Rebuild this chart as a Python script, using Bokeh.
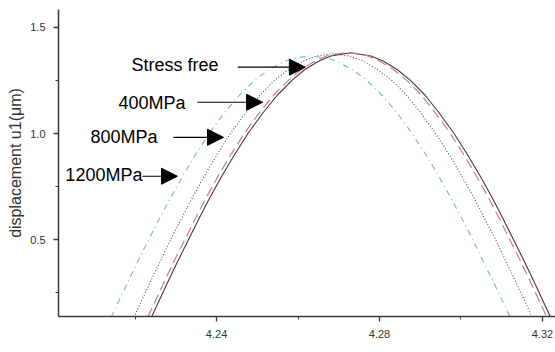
from bokeh.plotting import figure
from bokeh.models import Arrow, NormalHead, FixedTicker, Range1d, Label
from bokeh.core.properties import value
from bokeh.embed import file_html
from bokeh.resources import INLINE

# Displacement u1 (um) versus time (us) around the first peak, for four stress levels
stress_free_t = [4.2240, 4.2280, 4.2305, 4.2331, 4.2357, 4.2384, 4.2413, 4.2444, 4.2477,
                 4.2515, 4.2549, 4.2585, 4.2616, 4.2650, 4.2681, 4.2730,
                 4.2779, 4.2810, 4.2844, 4.2876, 4.2912, 4.2945, 4.2983, 4.3016,
                 4.3047, 4.3076, 4.3103, 4.3129, 4.3155, 4.3180, 4.3220]
stress_free_u = [0.135, 0.30, 0.40, 0.50, 0.60, 0.70, 0.80, 0.90, 1.00,
                 1.10, 1.18, 1.25, 1.30, 1.34, 1.365, 1.38,
                 1.365, 1.34, 1.30, 1.25, 1.18, 1.10, 1.00, 0.90,
                 0.80, 0.70, 0.60, 0.50, 0.40, 0.30, 0.135]

mpa400_t = [4.2231, 4.2271, 4.2296, 4.2322, 4.2348, 4.2375, 4.2404, 4.2435, 4.2468,
            4.2506, 4.2540, 4.2576, 4.2607, 4.2641, 4.2672, 4.2721,
            4.2770, 4.2801, 4.2835, 4.2867, 4.2903, 4.2936, 4.2974, 4.3007,
            4.3038, 4.3067, 4.3094, 4.3120, 4.3146, 4.3171, 4.3211]
mpa400_u = [0.135, 0.30, 0.40, 0.50, 0.60, 0.70, 0.80, 0.90, 1.00,
            1.10, 1.18, 1.25, 1.30, 1.34, 1.366, 1.382,
            1.366, 1.34, 1.30, 1.25, 1.18, 1.10, 1.00, 0.90,
            0.80, 0.70, 0.60, 0.50, 0.40, 0.30, 0.135]

mpa800_t = [4.2197, 4.2237, 4.2262, 4.2287, 4.2314, 4.2341, 4.2370, 4.2401, 4.2434,
            4.2472, 4.2506, 4.2542, 4.2576, 4.2611, 4.2646, 4.2686,
            4.2726, 4.2761, 4.2796, 4.2830, 4.2866, 4.2900, 4.2938, 4.2971,
            4.3002, 4.3031, 4.3058, 4.3085, 4.3110, 4.3135, 4.3175]
mpa800_u = [0.135, 0.30, 0.40, 0.50, 0.60, 0.70, 0.80, 0.90, 1.00,
            1.10, 1.18, 1.25, 1.30, 1.34, 1.365, 1.375,
            1.365, 1.34, 1.30, 1.25, 1.18, 1.10, 1.00, 0.90,
            0.80, 0.70, 0.60, 0.50, 0.40, 0.30, 0.135]

mpa1200_t = [4.2141, 4.2182, 4.2207, 4.2233, 4.2260, 4.2288, 4.2317, 4.2348, 4.2382,
             4.2420, 4.2456, 4.2493, 4.2528, 4.2567, 4.2591, 4.2631,
             4.2671, 4.2695, 4.2734, 4.2769, 4.2806, 4.2842, 4.2880, 4.2914,
             4.2945, 4.2974, 4.3002, 4.3029, 4.3054, 4.3080, 4.3121]
mpa1200_u = [0.135, 0.30, 0.40, 0.50, 0.60, 0.70, 0.80, 0.90, 1.00,
             1.10, 1.18, 1.25, 1.30, 1.34, 1.355, 1.365,
             1.355, 1.34, 1.30, 1.25, 1.18, 1.10, 1.00, 0.90,
             0.80, 0.70, 0.60, 0.50, 0.40, 0.30, 0.135]

# Curve labels and the arrows pointing at each curve
label_text = ["Stress free", "400MPa", "800MPa", "1200MPa"]
label_t = [4.2405, 4.2324, 4.2255, 4.2218]
label_u = [1.321, 1.142, 0.982, 0.803]
arrow_t0 = [4.2452, 4.2353, 4.2294, 4.2218]
arrow_t1 = [4.2618, 4.2513, 4.2417, 4.2304]
arrow_u = [1.312, 1.147, 0.982, 0.799]

x_major = [4.24, 4.28, 4.32]
x_minor = [4.22, 4.26, 4.30]
y_major = [0.5, 1.0, 1.5]
y_minor = [0.25, 0.75, 1.25]

FONT = "Liberation Sans"
AXIS_COLOR = "#3a3a3a"

p = figure(width=555, height=352, output_backend="svg", toolbar_location=None,
           x_range=Range1d(4.2012, 4.3232), y_range=Range1d(0.139, 1.5835),
           min_border_left=58, min_border_right=0, min_border_top=9, min_border_bottom=36)
p.outline_line_color = None
p.grid.visible = False
p.background_fill_color = "white"
p.border_fill_color = "white"

# curves
p.line(stress_free_t, stress_free_u, line_color="#3c3c3c", line_width=1.1)
p.line(mpa400_t, mpa400_u, line_color="#d47a7a", line_width=1.2, line_dash="10 5")
p.line(mpa800_t, mpa800_u, line_color="#4a4a78", line_width=1.1, line_dash="1 2")
p.line(mpa1200_t, mpa1200_u, line_color="#78b6c6", line_width=1.1, line_dash="6 4 1 4")

# annotations
p.text(x=label_t, y=label_u, text=label_text, text_font=value(FONT),
       text_font_size="18px", text_align="right", text_baseline="middle",
       text_color="black")
for t0, t1, u in zip(arrow_t0, arrow_t1, arrow_u):
    p.add_layout(Arrow(end=NormalHead(size=16, fill_color="black", line_color="black"),
                       x_start=t0, y_start=u, x_end=t1, y_end=u,
                       line_color="black", line_width=1.2))

# axes
for ax in (p.xaxis[0], p.yaxis[0]):
    ax.axis_line_color = AXIS_COLOR
    ax.axis_line_width = 1.5
    ax.major_tick_line_color = AXIS_COLOR
    ax.minor_tick_line_color = AXIS_COLOR
    ax.major_tick_line_width = 1.3
    ax.minor_tick_line_width = 1.1
    ax.major_tick_in = 0
    ax.major_tick_out = 5
    ax.minor_tick_in = 0
    ax.minor_tick_out = 3
    ax.major_label_text_font = FONT
    ax.major_label_text_font_size = "11px"
    ax.major_label_text_color = "#333333"
    ax.major_label_standoff = 8
    ax.axis_label_text_font = FONT
    ax.axis_label_text_font_style = "normal"
    ax.axis_label_text_color = "#333333"

p.xaxis.ticker = FixedTicker(ticks=x_major, minor_ticks=x_minor)
p.yaxis.ticker = FixedTicker(ticks=y_major, minor_ticks=y_minor)
p.xaxis.major_label_overrides = {4.24: "4.24", 4.28: "4.28", 4.32: "4.32"}
p.yaxis.major_label_overrides = {0.5: "0.5", 1.0: "1.0", 1.5: "1.5"}

p.yaxis.axis_label = "displacement u1(\u03bcm)"
p.yaxis.axis_label_text_font_size = "16px"
p.yaxis.axis_label_standoff = 3

p.add_layout(Label(x=4.2640, y=0.026, text="time (\u03bcs)", text_font=FONT,
                   text_font_size="15px", text_align="center", text_baseline="middle",
                   text_color="#333333"))

open("out.html", "w").write(file_html(p, INLINE))
